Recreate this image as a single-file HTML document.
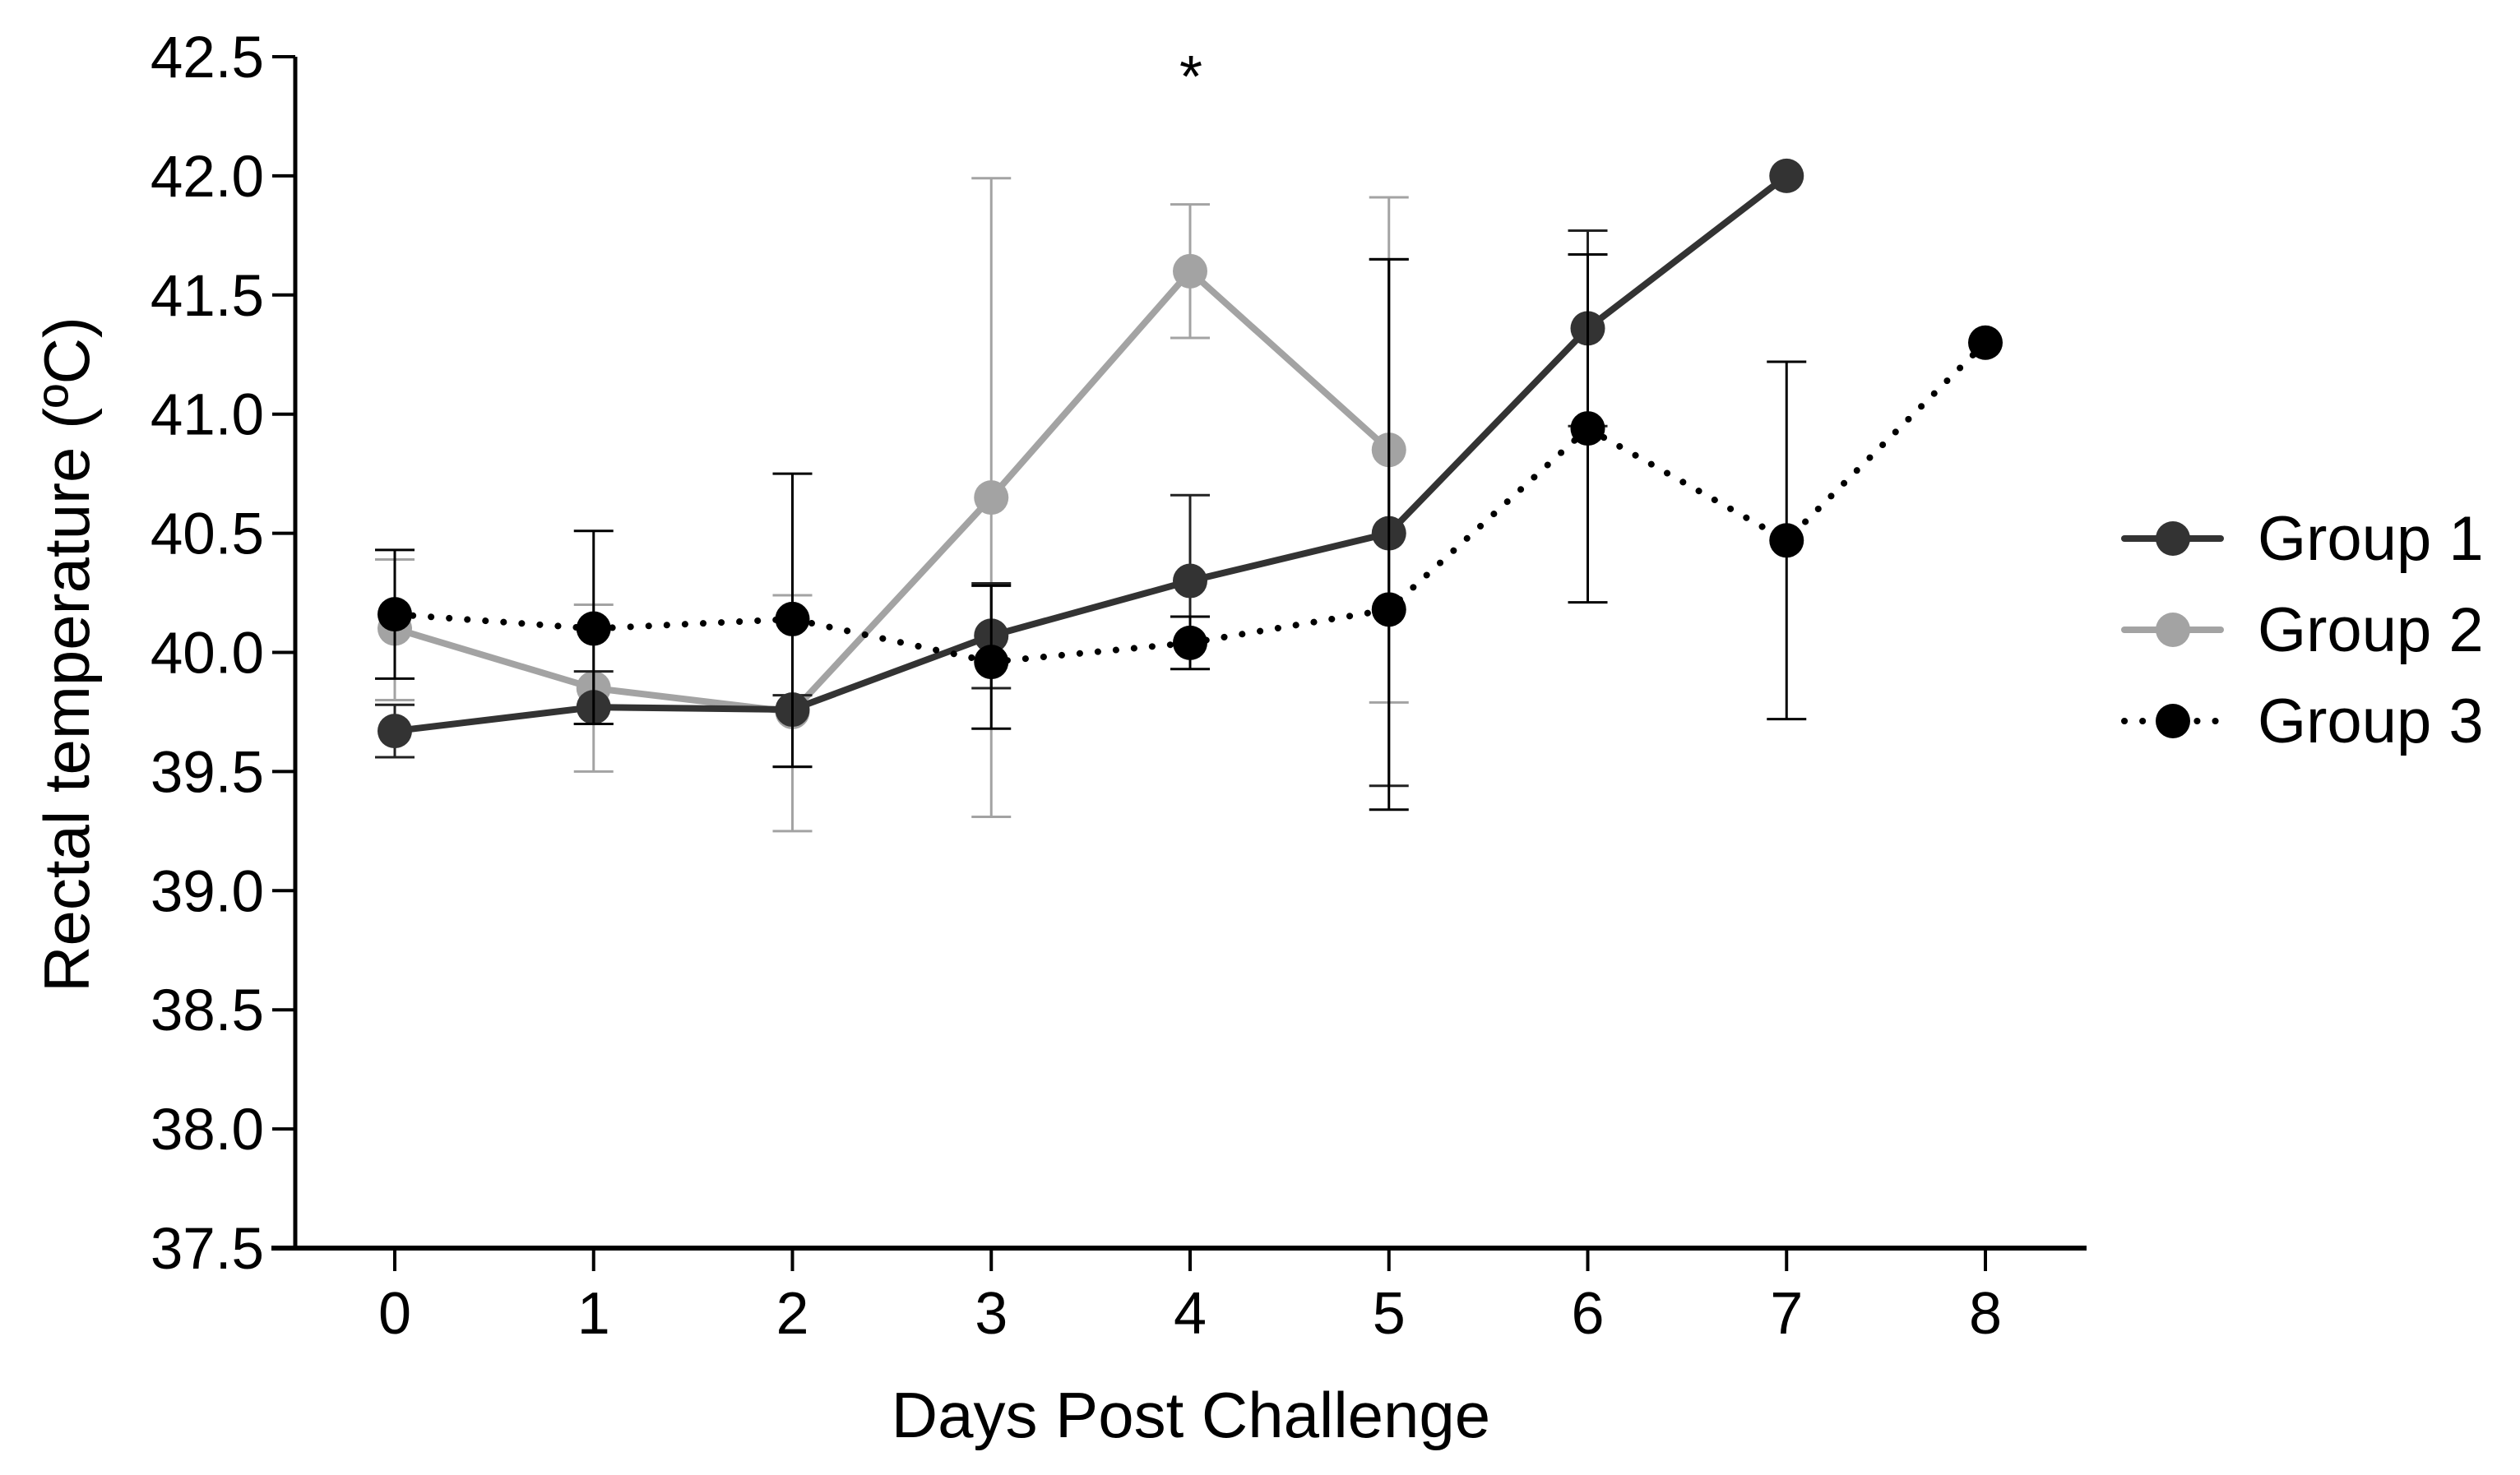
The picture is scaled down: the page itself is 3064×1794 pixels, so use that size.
<!DOCTYPE html>
<html><head><meta charset="utf-8"><style>
html,body{margin:0;padding:0;background:#fff;}
svg{display:block;font-family:"Liberation Sans",Arial,sans-serif;}
</style></head><body>
<svg id="chart" width="3064" height="1794" viewBox="0 0 3064 1794" xmlns="http://www.w3.org/2000/svg">
<rect width="3064" height="1794" fill="#fff"/>
<g id="axes"></g><g id="series"></g><g id="legend"></g>
</svg>
<script>
const days=[0,1,2,3,4,5,6,7,8];
const yTicks=[37.5,38.0,38.5,39.0,39.5,40.0,40.5,41.0,41.5,42.0,42.5];
const g1Mean=[39.67,39.77,39.76,40.07,40.30,40.50,41.36,42.00];
const g1Low=[39.56,39.70,39.52,39.85,40.15,39.44,40.95,42.00];
const g1High=[39.78,39.92,39.82,40.29,40.66,41.65,41.77,42.00];
const g2Mean=[40.10,39.85,39.75,40.65,41.60,40.85];
const g2Low=[39.80,39.50,39.25,39.31,41.32,39.79];
const g2High=[40.39,40.20,40.24,41.99,41.88,41.91];
const g3Mean=[40.16,40.10,40.14,39.96,40.04,40.18,40.94,40.47,41.30];
const g3Low=[39.89,39.70,39.52,39.68,39.93,39.34,40.21,39.72,41.30];
const g3High=[40.43,40.51,40.75,40.28,40.15,41.65,41.67,41.22,41.30];
const groupNames=["Group 1","Group 2","Group 3"];

const NS="http://www.w3.org/2000/svg";
const X0=359,YB=1518,YT=69;
function xs(d){return 480+d*(2414-480)/8;}
function ys(v){return YB-(v-37.5)*(YB-YT)/5;}
function mk(tag,attrs,parent){const e=document.createElementNS(NS,tag);for(const k in attrs)e.setAttribute(k,attrs[k]);parent.appendChild(e);return e;}
const axes=document.getElementById('axes');
let e=mk('line',{x1:X0,y1:YT,x2:X0,y2:YB+2,stroke:'#000','stroke-width':5},axes);


e=mk('line',{x1:330,y1:YB,x2:2537,y2:YB,stroke:'#000','stroke-width':6},axes);


yTicks.forEach(v=>{
 let t=mk('line',{x1:X0-28,y1:ys(v),x2:X0,y2:ys(v),stroke:'#000','stroke-width':4},axes);
 
 
 let l=mk('text',{x:X0-38,y:ys(v)+25,'text-anchor':'end','font-size':71,fill:'#000'},axes);
 l.textContent=v.toFixed(1);
 
 
});
days.forEach(d=>{
 let t=mk('line',{x1:xs(d),y1:YB,x2:xs(d),y2:YB+28,stroke:'#000','stroke-width':4},axes);
 
 
 let l=mk('text',{x:xs(d),y:1622,'text-anchor':'middle','font-size':72,fill:'#000'},axes);
 l.textContent=d;
 
 
});
e=mk('text',{x:1448,y:1748,'text-anchor':'middle','font-size':78,fill:'#000'},axes);
e.textContent='Days Post Challenge';


e=mk('text',{x:0,y:0,'text-anchor':'middle','font-size':78,fill:'#000',transform:'translate(108,796) rotate(-90)'},axes);
e.textContent='Rectal temperature (ºC)';


e=mk('text',{x:1448,y:118,'text-anchor':'middle','font-size':72,fill:'#000'},axes);
e.textContent='*';



const ser=document.getElementById('series');
function drawSeries(name,mean,lo,hi,color,errColor,dash,errW){
 const g=mk('g',{},ser);
 
 
 mean.forEach((m,i)=>{
  if(hi[i]===lo[i])return;
  let b=mk('path',{d:`M${xs(i)},${ys(lo[i])}V${ys(hi[i])}M${xs(i)-24},${ys(lo[i])}h48M${xs(i)-24},${ys(hi[i])}h48`,stroke:errColor,'stroke-width':errW,fill:'none'},g);
  
  
 });
 const pts=mean.map((m,i)=>xs(i)+','+ys(m)).join(' ');
 let l=mk('polyline',{points:pts,fill:'none',stroke:color,'stroke-width':dash?8:8,'stroke-dasharray':dash||'none','stroke-linecap':'round'},g);
 
 
 mean.forEach((m,i)=>{
  let c=mk('circle',{cx:xs(i),cy:ys(m),r:21,fill:color},g);
  
  
 });
}
drawSeries('group-2-series',g2Mean,g2Low,g2High,'#a3a3a3','#a3a3a3',null,3);
drawSeries('group-1-series',g1Mean,g1Low,g1High,'#333333','#222',null,3);
drawSeries('group-3-series',g3Mean,g3Low,g3High,'#000000','#000','0.1 22',3);

const leg=document.getElementById('legend');
const lc=['#333333','#a3a3a3','#000000'];
groupNames.forEach((n,i)=>{
 const y=655+i*111;
 const g=mk('g',{},leg);
 
 
 mk('line',{x1:2583,y1:y,x2:2700,y2:y,stroke:lc[i],'stroke-width':8,'stroke-dasharray':i==2?'0.1 22':'none','stroke-linecap':'round'},g);
 mk('circle',{cx:2642,cy:y,r:21,fill:lc[i]},g);
 let t=mk('text',{x:2745,y:y+26,'font-size':76,fill:'#000'},g);
 t.textContent=n;
});
</script>
</body></html>
